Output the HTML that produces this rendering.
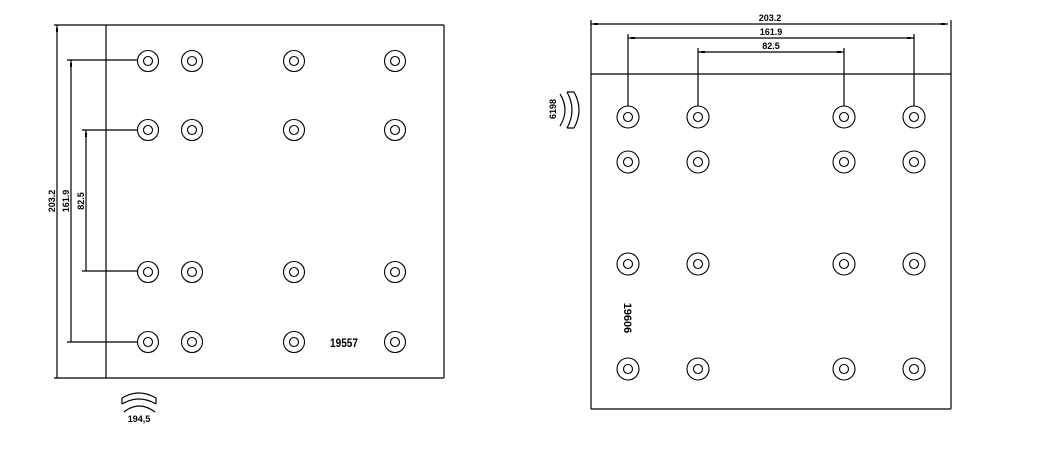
<!DOCTYPE html>
<html><head><meta charset="utf-8"><style>
html,body{margin:0;padding:0;background:#fff;}
svg{display:block;}
text{font-family:"Liberation Sans",sans-serif;font-weight:bold;fill:#000;}
</style></head><body>
<svg width="1045" height="451" viewBox="0 0 1045 451" xmlns="http://www.w3.org/2000/svg">
<g stroke="#000" stroke-width="1.2" fill="none">
<!-- LEFT -->
<line x1="54" y1="25" x2="444" y2="25"/>
<line x1="54" y1="378" x2="444" y2="378"/>
<line x1="444" y1="25" x2="444" y2="378"/>
<line x1="106" y1="25" x2="106" y2="378"/>
<line x1="57" y1="25" x2="57" y2="378"/>
<line x1="71" y1="60" x2="71" y2="342"/>
<line x1="86" y1="130" x2="86" y2="271"/>
<line x1="67" y1="60" x2="138" y2="60"/>
<line x1="82" y1="130" x2="138" y2="130"/>
<line x1="82" y1="271" x2="138" y2="271"/>
<line x1="67" y1="342" x2="138" y2="342"/>
<!-- RIGHT -->
<line x1="591" y1="20" x2="591" y2="409"/>
<line x1="951" y1="20" x2="951" y2="409"/>
<line x1="591" y1="74" x2="951" y2="74"/>
<line x1="591" y1="409" x2="951" y2="409"/>
<line x1="591" y1="24" x2="948" y2="24"/>
<line x1="628" y1="38" x2="914" y2="38"/>
<line x1="698" y1="52" x2="844" y2="52"/>
<line x1="628" y1="34" x2="628" y2="106"/>
<line x1="914" y1="34" x2="914" y2="106"/>
<line x1="698" y1="48" x2="698" y2="106"/>
<line x1="844" y1="48" x2="844" y2="106"/>
<!-- arc icons -->
<path d="M122 398 Q139 388 156 398 M122 398 L122 404 M156 398 L156 404 M122 404 Q139 394 156 404"/>
<path d="M124 412 Q139 400 155 412"/>
<path d="M567 92 Q577 110 567 128 M567 92 L574 92 M567 128 L574 128 M574 92 Q584 110 574 128"/>
<path d="M560 94 Q570 110 560 126"/>
</g>
<g fill="#000">
<rect x="56" y="28" width="2" height="4"/>
<rect x="70" y="63" width="2" height="4"/>
<rect x="85" y="133" width="2" height="4"/>
<rect x="594" y="23" width="4" height="2"/>
<rect x="941" y="23" width="4" height="2"/>
<rect x="631" y="37" width="4" height="2"/>
<rect x="907" y="37" width="4" height="2"/>
<rect x="701" y="51" width="4" height="2"/>
<rect x="837" y="51" width="4" height="2"/>
</g>
<g stroke="#000" stroke-width="1.1" fill="none">
<!-- left holes -->
<g id="h">
</g>
</g>
<g stroke="#000" stroke-width="1.1" fill="none">
<circle cx="148" cy="61" r="10.5"/><circle cx="148" cy="61" r="4.5"/>
<circle cx="192" cy="61" r="10.5"/><circle cx="192" cy="61" r="4.5"/>
<circle cx="294" cy="61" r="10.5"/><circle cx="294" cy="61" r="4.5"/>
<circle cx="395" cy="61" r="10.5"/><circle cx="395" cy="61" r="4.5"/>
<circle cx="148" cy="130" r="10.5"/><circle cx="148" cy="130" r="4.5"/>
<circle cx="192" cy="130" r="10.5"/><circle cx="192" cy="130" r="4.5"/>
<circle cx="294" cy="130" r="10.5"/><circle cx="294" cy="130" r="4.5"/>
<circle cx="395" cy="130" r="10.5"/><circle cx="395" cy="130" r="4.5"/>
<circle cx="148" cy="272" r="10.5"/><circle cx="148" cy="272" r="4.5"/>
<circle cx="192" cy="272" r="10.5"/><circle cx="192" cy="272" r="4.5"/>
<circle cx="294" cy="272" r="10.5"/><circle cx="294" cy="272" r="4.5"/>
<circle cx="395" cy="272" r="10.5"/><circle cx="395" cy="272" r="4.5"/>
<circle cx="148" cy="342" r="10.5"/><circle cx="148" cy="342" r="4.5"/>
<circle cx="192" cy="342" r="10.5"/><circle cx="192" cy="342" r="4.5"/>
<circle cx="294" cy="342" r="10.5"/><circle cx="294" cy="342" r="4.5"/>
<circle cx="395" cy="342" r="10.5"/><circle cx="395" cy="342" r="4.5"/>
<!-- right holes -->
<circle cx="628" cy="117" r="11"/><circle cx="628" cy="117" r="4.5"/>
<circle cx="698" cy="117" r="11"/><circle cx="698" cy="117" r="4.5"/>
<circle cx="844" cy="117" r="11"/><circle cx="844" cy="117" r="4.5"/>
<circle cx="914" cy="117" r="11"/><circle cx="914" cy="117" r="4.5"/>
<circle cx="628" cy="162" r="11"/><circle cx="628" cy="162" r="4.5"/>
<circle cx="698" cy="162" r="11"/><circle cx="698" cy="162" r="4.5"/>
<circle cx="844" cy="162" r="11"/><circle cx="844" cy="162" r="4.5"/>
<circle cx="914" cy="162" r="11"/><circle cx="914" cy="162" r="4.5"/>
<circle cx="628" cy="264" r="11"/><circle cx="628" cy="264" r="4.5"/>
<circle cx="698" cy="264" r="11"/><circle cx="698" cy="264" r="4.5"/>
<circle cx="844" cy="264" r="11"/><circle cx="844" cy="264" r="4.5"/>
<circle cx="914" cy="264" r="11"/><circle cx="914" cy="264" r="4.5"/>
<circle cx="628" cy="369" r="11"/><circle cx="628" cy="369" r="4.5"/>
<circle cx="698" cy="369" r="11"/><circle cx="698" cy="369" r="4.5"/>
<circle cx="844" cy="369" r="11"/><circle cx="844" cy="369" r="4.5"/>
<circle cx="914" cy="369" r="11"/><circle cx="914" cy="369" r="4.5"/>
</g>
<text x="344" y="347" font-size="12" text-anchor="middle" textLength="28" lengthAdjust="spacingAndGlyphs">19557</text>
<text x="139" y="422" font-size="9" text-anchor="middle">194,5</text>
<text x="770" y="21" font-size="9" text-anchor="middle">203.2</text>
<text x="771" y="35" font-size="9" text-anchor="middle">161.9</text>
<text x="771" y="49" font-size="9" text-anchor="middle">82.5</text>
<text transform="translate(55,201) rotate(-90)" font-size="9" text-anchor="middle">203.2</text>
<text transform="translate(69,201) rotate(-90)" font-size="9" text-anchor="middle">161.9</text>
<text transform="translate(84,201) rotate(-90)" font-size="9" text-anchor="middle">82.5</text>
<text transform="translate(556,109) rotate(-90)" font-size="9" text-anchor="middle">6198</text>
<text transform="translate(624,318) rotate(90)" font-size="11" text-anchor="middle">19606</text>
</svg>
</body></html>
